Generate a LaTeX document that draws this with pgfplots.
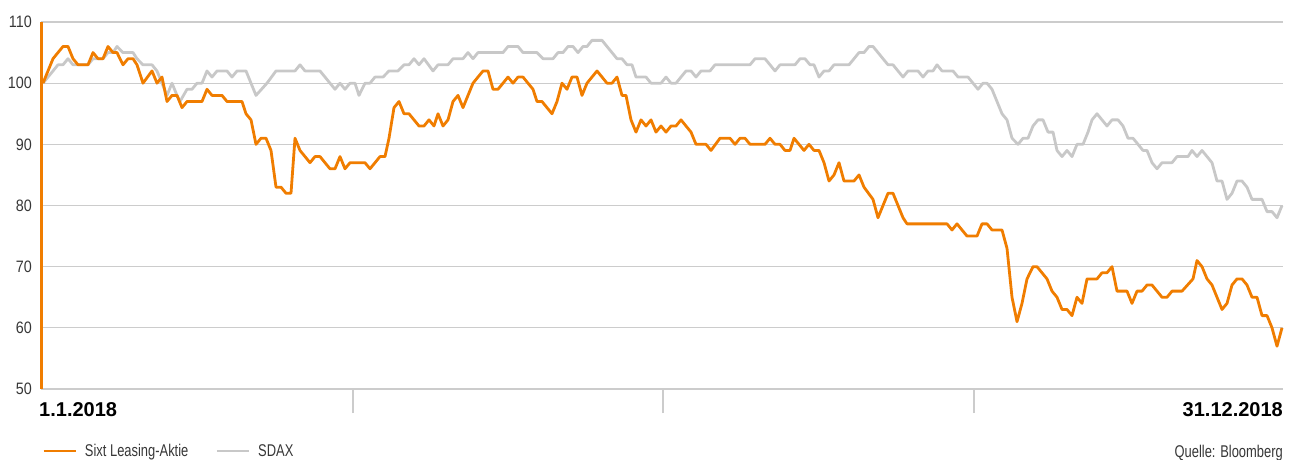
\documentclass[border=0pt]{standalone}
\usepackage{fontspec}
\setmainfont{Liberation Sans}
\newfontfamily\legendfont{Liberation Sans}[FakeStretch=0.76]
\newfontfamily\tickfont{Liberation Sans}[FakeStretch=0.87]
\usepackage{pgfplots}
\pgfplotsset{compat=1.18}
\definecolor{sixt}{RGB}{240,125,0}
\definecolor{sdax}{RGB}{200,200,200}
\definecolor{gridgray}{RGB}{204,204,204}
\definecolor{labelgray}{RGB}{55,55,55}

\begin{document}
\begin{tikzpicture}[x=1pt,y=1pt]
\path[use as bounding box] (0,0) rectangle (1290,459);
\begin{axis}[
  at={(41pt,70pt)}, anchor=south west,
  scale only axis, width=1242pt, height=367pt,
  xmin=41, xmax=1283, ymin=50, ymax=110,
  clip=false,
  axis x line*=bottom, axis y line*=left,
  axis line style={-},
  x axis line style={draw=gridgray, line width=1.2pt},
  y axis line style={draw=sixt, line width=3pt},
  xtick={353,663,974}, xticklabels={},
  tick align=outside, major tick length=24pt,
  xtick style={draw=gridgray, line width=1.2pt},
  ytick={50,60,...,110},
  ytick style={draw=none},
  ymajorgrids, grid style={draw=gridgray, line width=1.2pt},
  /pgf/number format/assume math mode=true,
  yticklabel style={font=\tickfont\fontsize{16.5}{16.5}\selectfont, text=labelgray, inner xsep=0pt, xshift=15pt},
  legend columns=2,
  legend style={at={(axis description cs:0.0008,-0.169)}, anchor=west,
    draw=none, fill=none, inner sep=0pt,
    font=\legendfont\fontsize{17}{18}\selectfont, text=labelgray,
    nodes={inner sep=0pt, anchor=west},
    /tikz/every odd column/.append style={column sep=8pt},
    /tikz/every even column/.append style={column sep=27pt}},
  legend image code/.code={\draw[#1, line width=2.8pt] (0pt,0pt) -- (32pt,0pt);},
]
\addlegendimage{sixt}
\addlegendimage{sdax}
\addplot[sdax, line width=2.8pt, line join=round, forget plot] coordinates {
(43,100) (53,102) (58,103) (63,103) (68,104) (73,103) (88,103) (93,104) (103,104)
(108,105) (113,105) (117,106) (123,105) (133,105) (137,104) (143,103) (152,103)
(157,102) (162,100) (167,98) (172,100) (177,98) (180,97) (187,99) (192,99)
(197,100) (202,100) (207,102) (212,101) (217,102) (227,102) (232,101) (237,102)
(246,102) (256,98) (267,100) (276,102) (295,102) (300,103) (305,102) (320,102)
(335,99) (340,100) (345,99) (350,100) (355,100) (359,98) (365,100) (370,100)
(375,101) (383,101) (389,102) (398,102) (404,103) (409,103) (414,104) (419,103)
(424,104) (433,102) (438,103) (448,103) (453,104) (463,104) (468,105) (473,104)
(478,105) (503,105) (508,106) (518,106) (523,105) (537,105) (543,104) (553,104)
(558,105) (563,105) (568,106) (573,106) (578,105) (583,106) (587,106) (592,107)
(602,107) (617,104) (622,104) (627,103) (632,103) (636,101) (646,101) (651,100)
(661,100) (666,101) (671,100) (676,100) (686,102) (691,102) (696,101) (701,102)
(710,102) (715,103) (750,103) (755,104) (765,104) (775,102) (780,103) (795,103)
(800,104) (805,104) (810,103) (814,103) (819,101) (824,102) (829,102) (834,103)
(849,103) (854,104) (859,105) (864,105) (869,106) (873,106) (888,103) (893,103)
(903,101) (908,102) (918,102) (923,101) (928,102) (933,102) (937,103) (942,102)
(953,102) (958,101) (968,101) (973,100) (978,99) (983,100) (987,100) (992,99)
(997,97) (1002,95) (1007,94) (1012,91) (1018,90) (1023,91) (1028,91) (1033,93)
(1038,94) (1043,94) (1048,92) (1053,92) (1057,89) (1062,88) (1067,89) (1072,88)
(1077,90) (1083,90) (1088,92) (1092,94) (1097,95) (1102,94) (1107,93) (1112,94)
(1118,94) (1123,93) (1128,91) (1133,91) (1138,90) (1143,89) (1147,89) (1152,87)
(1157,86) (1162,87) (1172,87) (1177,88) (1188,88) (1192,89) (1197,88) (1202,89)
(1207,88) (1212,87) (1217,84) (1222,84) (1227,81) (1232,82) (1237,84) (1242,84)
(1247,83) (1252,81) (1262,81) (1267,79) (1272,79) (1277,78) (1282,80)
};
\addplot[sixt, line width=2.8pt, line join=round, forget plot] coordinates {
(43,100) (53,104) (63,106) (68,106) (73,104) (78,103) (88,103) (93,105) (98,104)
(103,104) (108,106) (113,105) (117,105) (123,103) (128,104) (133,104) (137,103)
(143,100) (152,102) (157,100) (162,101) (167,97) (172,98) (177,98) (182,96)
(187,97) (202,97) (207,99) (212,98) (222,98) (227,97) (242,97) (246,95) (251,94)
(256,90) (261,91) (266,91) (271,89) (276,83) (281,83) (286,82) (291,82) (295,91)
(300,89) (305,88) (310,87) (315,88) (320,88) (330,86) (335,86) (340,88) (345,86)
(350,87) (365,87) (370,86) (380,88) (385,88) (389,91) (394,96) (399,97) (404,95)
(409,95) (419,93) (424,93) (429,94) (434,93) (438,95) (443,93) (448,94) (453,97)
(458,98) (463,96) (468,98) (473,100) (478,101) (483,102) (488,102) (493,99)
(498,99) (508,101) (513,100) (518,101) (523,101) (533,99) (537,97) (542,97)
(552,95) (557,97) (562,100) (567,99) (572,101) (577,101) (582,98) (587,100)
(597,102) (607,100) (612,100) (617,101) (622,98) (626,98) (631,94) (636,92)
(641,94) (646,93) (651,94) (656,92) (661,93) (666,92) (671,93) (676,93) (681,94)
(686,93) (691,92) (696,90) (706,90) (711,89) (720,91) (730,91) (735,90) (740,91)
(745,91) (750,90) (765,90) (770,91) (775,90) (780,90) (785,89) (790,89) (794,91)
(799,90) (804,89) (809,90) (814,89) (819,89) (824,87) (829,84) (834,85) (839,87)
(844,84) (854,84) (859,85) (864,83) (873,81) (878,78) (883,80) (888,82) (893,82)
(898,80) (903,78) (907,77) (947,77) (952,76) (957,77) (967,75) (977,75) (982,77)
(987,77) (992,76) (1002,76) (1007,73) (1012,65) (1017,61) (1022,64) (1027,68)
(1033,70) (1037,70) (1042,69) (1047,68) (1052,66) (1057,65) (1062,63) (1067,63)
(1072,62) (1077,65) (1082,64) (1087,68) (1097,68) (1102,69) (1107,69) (1112,70)
(1117,66) (1127,66) (1132,64) (1137,66) (1142,66) (1147,67) (1152,67) (1162,65)
(1167,65) (1172,66) (1182,66) (1193,68) (1197,71) (1202,70) (1207,68) (1212,67)
(1222,63) (1227,64) (1232,67) (1237,68) (1242,68) (1247,67) (1252,65) (1257,65)
(1262,62) (1267,62) (1272,60) (1277,57) (1282,60)
};
\legend{Sixt Leasing-Aktie, SDAX}
\end{axis}
\node[anchor=base west, inner sep=0pt, font=\fontsize{20}{20}\selectfont\bfseries] at (39,43) {1.1.2018};
\node[anchor=base east, inner sep=0pt, font=\fontsize{20}{20}\selectfont\bfseries] at (1283,43) {31.12.2018};
\node[anchor=base east, inner sep=0pt, font=\legendfont\fontsize{17}{18}\selectfont, text=labelgray] at (1283,2) {Quelle: Bloomberg};
\end{tikzpicture}
\end{document}
